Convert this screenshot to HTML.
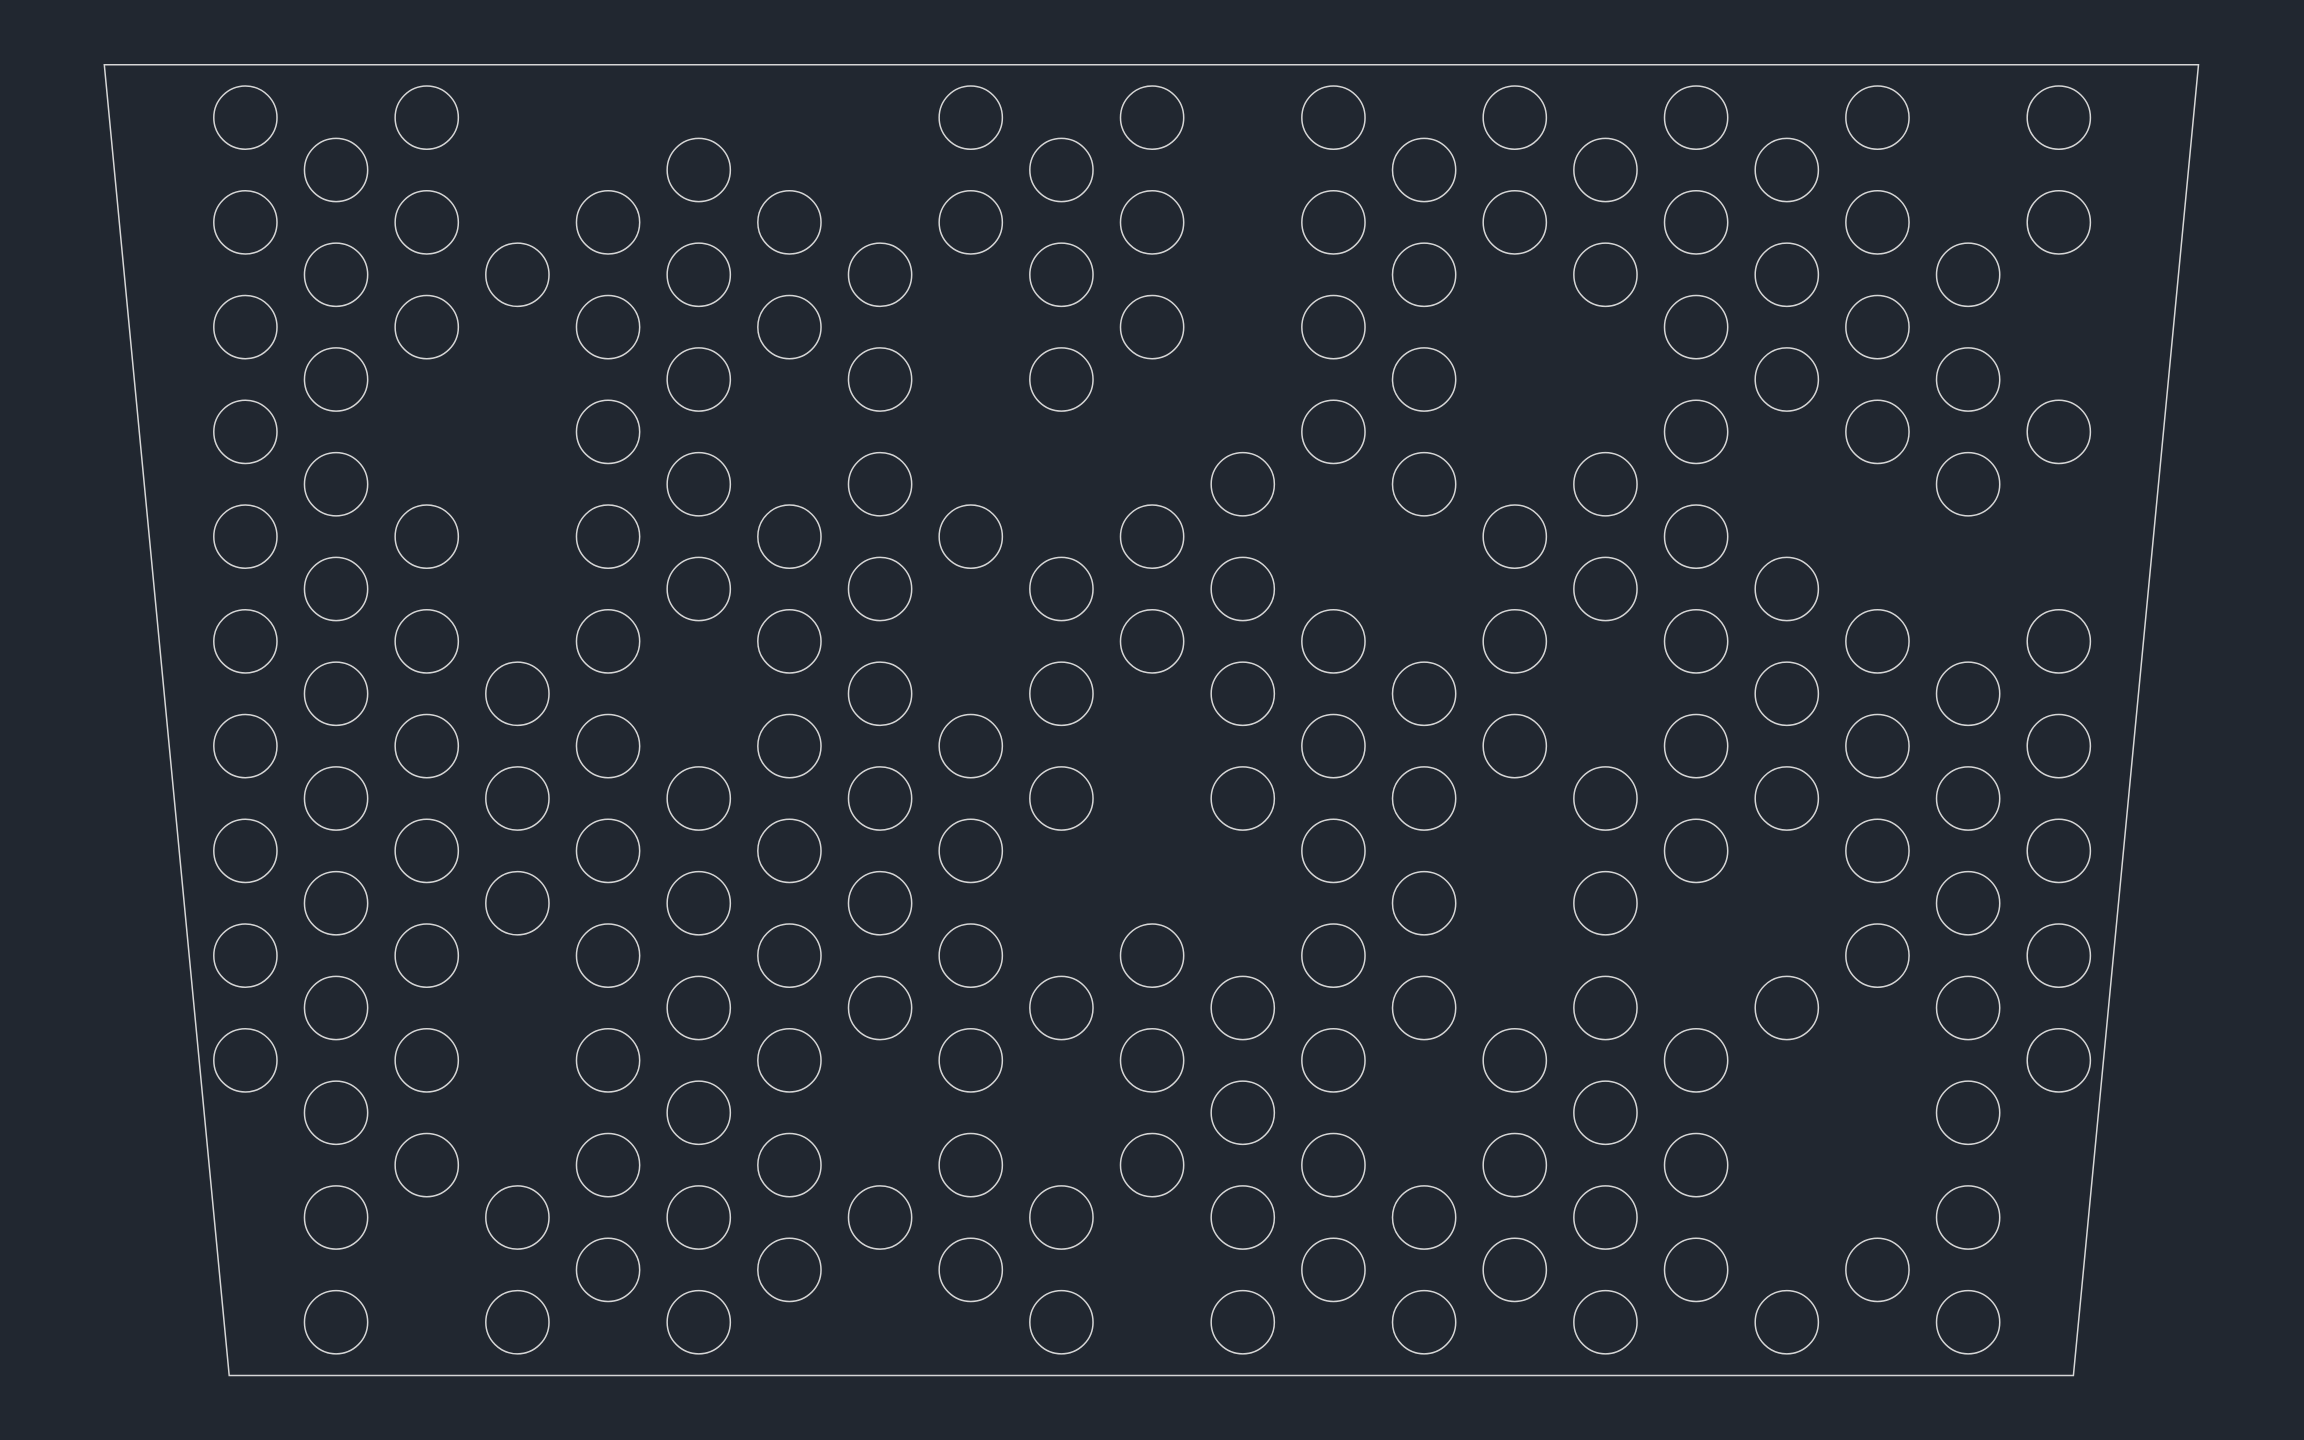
<!DOCTYPE html>
<html>
<head>
<meta charset="utf-8">
<style>
  html,body{margin:0;padding:0;background:#212730;}
  body{width:2304px;height:1440px;overflow:hidden;}
  svg{display:block;}
</style>
</head>
<body>
<svg id="chart" width="2304" height="1440" viewBox="0 0 2304 1440" xmlns="http://www.w3.org/2000/svg">
  <rect x="0" y="0" width="2304" height="1440" fill="#212730"/>
  <polygon points="104.3,64.7 2198.5,64.7 2073.4,1375.5 229.2,1375.5" fill="none" stroke="#d6d6d6" stroke-width="1.5"/>
  <g id="circles"></g>
</svg>
<script>
// Column indices 0..20; each array lists occupied row indices (0..11) for that column.
const columns = [0,1,2,3,4,5,6,7,8,9,10,11,12,13,14,15,16,17,18,19,20];
const occupied = [
  [0,1,2,3,4,5,6,7,8,9],
  [0,1,2,3,4,5,6,7,8,9,10,11],
  [0,1,2,4,5,6,7,8,9,10],
  [1,5,6,7,10,11],
  [1,2,3,4,5,6,7,8,9,10,11],
  [0,1,2,3,4,6,7,8,9,10,11],
  [1,2,4,5,6,7,8,9,10,11],
  [1,2,3,4,5,6,7,8,10],
  [0,1,4,6,7,8,9,10,11],
  [0,1,2,4,5,6,8,10,11],
  [0,1,2,4,5,8,9,10],
  [3,4,5,6,8,9,10,11],
  [0,1,2,3,5,6,7,8,9,10,11],
  [0,1,2,3,5,6,7,8,10,11],
  [0,1,4,5,6,9,10,11],
  [0,1,3,4,6,7,8,9,10,11],
  [0,1,2,3,4,5,6,7,9,10,11],
  [0,1,2,4,5,6,8,11],
  [0,1,2,3,5,6,7,8,11],
  [1,2,3,5,6,7,8,9,10,11],
  [0,1,3,5,6,7,8,9]
];

const X0 = 245.4, DX = 90.67, Y0 = 117.6, DY = 104.75, R = 31.6;
function xScale(col){ return X0 + col * DX; }
function yScale(col, row){ return Y0 + row * DY + (col % 2 === 1 ? DY / 2 : 0); }

const g = document.getElementById('circles');
const NS = 'http://www.w3.org/2000/svg';
columns.forEach(function(col){
  occupied[col].forEach(function(row){
    const c = document.createElementNS(NS, 'circle');
    c.setAttribute('cx', xScale(col));
    c.setAttribute('cy', yScale(col, row));
    c.setAttribute('r', R);
    c.setAttribute('fill', 'none');
    c.setAttribute('stroke', '#d6d6d6');
    c.setAttribute('stroke-width', '1.5');
    
    
    g.appendChild(c);
  });
});
</script>
</body>
</html>
